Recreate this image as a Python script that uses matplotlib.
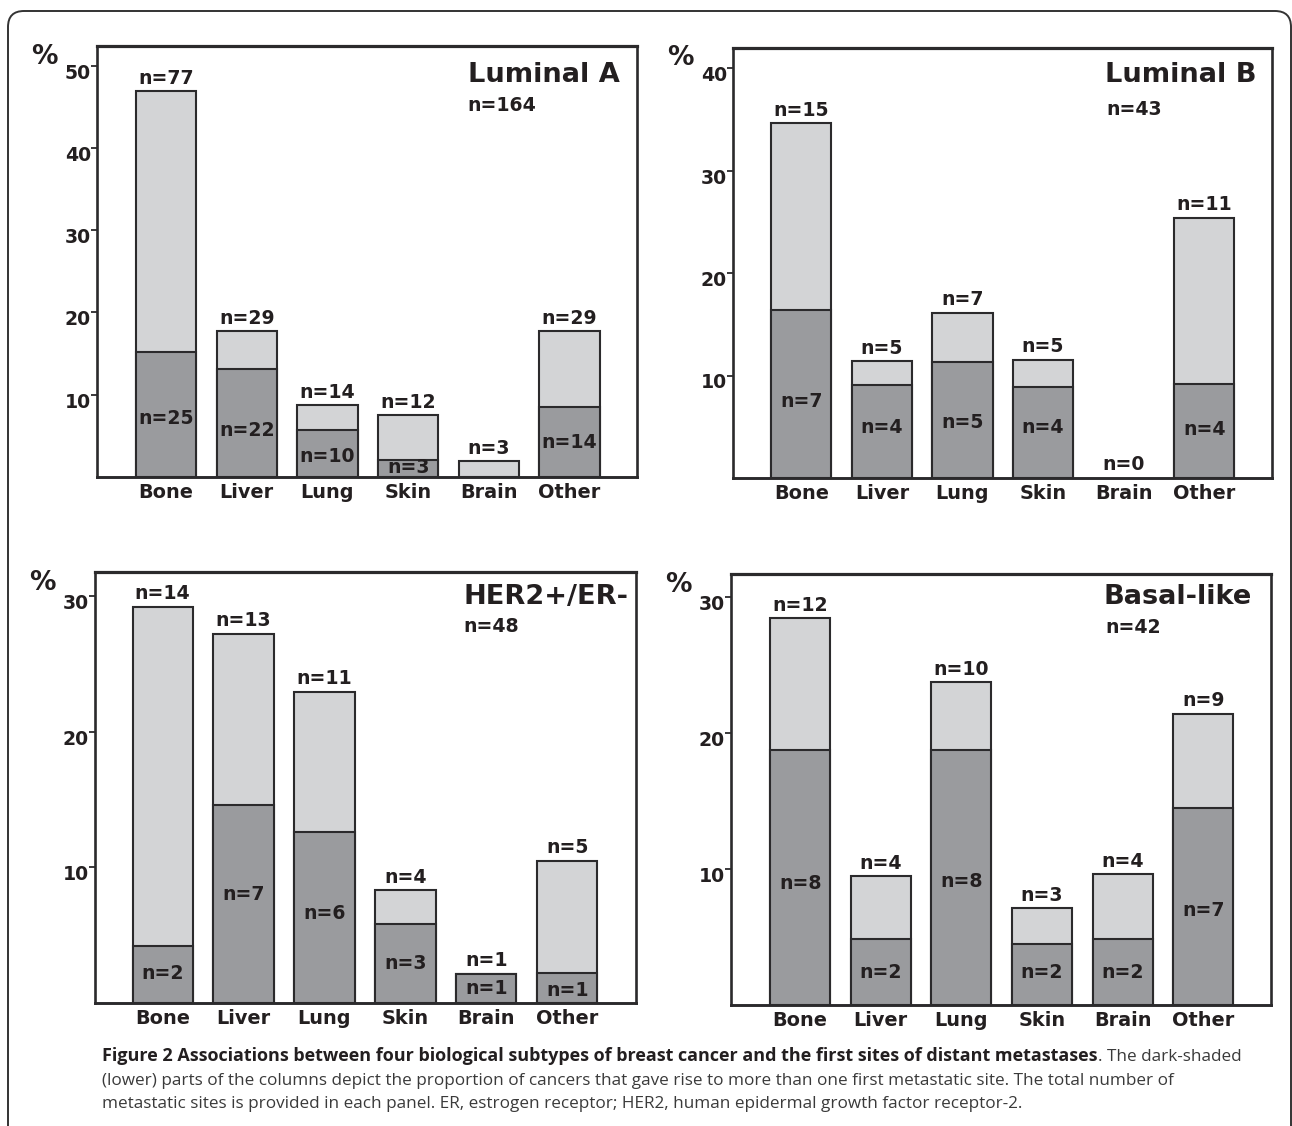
import matplotlib
matplotlib.use("Agg")
import matplotlib.pyplot as plt
from matplotlib.patches import FancyBboxPatch
from matplotlib.transforms import IdentityTransform, ScaledTranslation

# ---------------- data ----------------
sites = ["Bone", "Liver", "Lung", "Skin", "Brain", "Other"]

lumA_total = [46.9, 17.7, 8.7, 7.5, 1.9, 17.7]
lumA_multi = [15.2, 13.1, 5.7, 2.1, 0.0, 8.5]
lumA_n_total = ["n=77", "n=29", "n=14", "n=12", "n=3", "n=29"]
lumA_n_multi = ["n=25", "n=22", "n=10", "n=3", "", "n=14"]

lumB_total = [34.6, 11.4, 16.1, 11.5, 0.0, 25.4]
lumB_multi = [16.4, 9.1, 11.3, 8.9, 0.0, 9.2]
lumB_n_total = ["n=15", "n=5", "n=7", "n=5", "n=0", "n=11"]
lumB_n_multi = ["n=7", "n=4", "n=5", "n=4", "", "n=4"]

her2_total = [29.2, 27.2, 22.95, 8.3, 2.15, 10.5]
her2_multi = [4.2, 14.6, 12.6, 5.8, 2.15, 2.2]
her2_n_total = ["n=14", "n=13", "n=11", "n=4", "n=1", "n=5"]
her2_n_multi = ["n=2", "n=7", "n=6", "n=3", "n=1", "n=1"]

basal_total = [28.4, 9.46, 23.7, 7.1, 9.6, 21.4]
basal_multi = [18.7, 4.83, 18.7, 4.5, 4.83, 14.5]
basal_n_total = ["n=12", "n=4", "n=10", "n=3", "n=4", "n=9"]
basal_n_multi = ["n=8", "n=2", "n=8", "n=2", "n=2", "n=7"]

titles = ["Luminal A", "Luminal B", "HER2+/ER-", "Basal-like"]
panel_n = ["n=164", "n=43", "n=48", "n=42"]

# ---------------- layout / style ----------------
W, H, DPI = 1292, 1126, 100
LIGHT = "#d3d4d6"
DARK = "#9a9b9e"
EDGE = "#2b2a2c"
TXT = "#231f20"
FONT = ["DejaVu Sans"]

plt.rcParams["font.family"] = FONT
plt.rcParams["font.weight"] = "bold"

fig = plt.figure(figsize=(W / DPI, H / DPI), dpi=DPI)
fig.patch.set_facecolor("white")


def px_rect(left, right, top, bottom):
    return [left / W, 1 - bottom / H, (right - left) / W, (bottom - top) / H]


panels = [
    dict(rect=px_rect(97, 637, 46, 477), ylim=52.4, xlim=(-0.856, 5.836),
         yticks=[10, 20, 30, 40, 50],
         total=lumA_total, multi=lumA_multi, nt=lumA_n_total, nm=lumA_n_multi,
         label_y=[7.1, 5.7, 2.5, 1.15, None, 4.2],
         title_xy=(0.969, 0.917), n_xy=(0.686, 0.849)),
    dict(rect=px_rect(733, 1272, 47.5, 478), ylim=42.0, xlim=(-0.847, 5.84),
         yticks=[10, 20, 30, 40],
         total=lumB_total, multi=lumB_multi, nt=lumB_n_total, nm=lumB_n_multi,
         label_y=[7.5, 4.9, 5.4, 4.9, None, 4.7],
         title_xy=(0.972, 0.919), n_xy=(0.692, 0.843)),
    dict(rect=px_rect(95, 636, 572, 1003), ylim=31.76, xlim=(-0.836, 5.85),
         yticks=[10, 20, 30],
         total=her2_total, multi=her2_multi, nt=her2_n_total, nm=her2_n_multi,
         label_y=[2.15, 8.0, 6.6, 2.9, 1.05, 0.93],
         title_xy=(0.986, 0.925), n_xy=(0.681, 0.861)),
    dict(rect=px_rect(731, 1271, 574, 1005), ylim=31.66, xlim=(-0.858, 5.84),
         yticks=[10, 20, 30],
         total=basal_total, multi=basal_multi, nt=basal_n_total, nm=basal_n_multi,
         label_y=[8.9, 2.4, 9.1, 2.4, 2.4, 6.95],
         title_xy=(0.964, 0.930), n_xy=(0.694, 0.863)),
]

BAR_W = 0.745
LAB_FS = 13.6

for i, p in enumerate(panels):
    ax = fig.add_axes(p["rect"])
    x = list(range(len(sites)))
    xt = [xi for xi, v in zip(x, p["total"]) if v > 0]
    vt = [v for v in p["total"] if v > 0]
    xm = [xi for xi, v in zip(x, p["multi"]) if v > 0]
    vm = [v for v in p["multi"] if v > 0]
    ax.bar(xt, vt, width=BAR_W, color=LIGHT, edgecolor=EDGE, linewidth=1.5, zorder=1)
    ax.bar(xm, vm, width=BAR_W, color=DARK, edgecolor=EDGE, linewidth=1.5, zorder=1.1)

    for xi, v, lab in zip(x, p["total"], p["nt"]):
        ax.annotate(lab, (xi, v), xytext=(0, 5.5), textcoords="offset points",
                    ha="center", va="baseline", fontsize=LAB_FS,
                    fontweight="bold", color=TXT)
    for xi, ly, lab in zip(x, p["label_y"], p["nm"]):
        if lab and ly is not None:
            ax.text(xi, ly, lab, ha="center", va="center", fontsize=LAB_FS,
                    fontweight="bold", color=TXT, zorder=3)

    ax.set_xlim(*p["xlim"])
    ax.set_ylim(0, p["ylim"])
    ax.set_xticks(x)
    ax.set_xticklabels(sites, fontsize=LAB_FS + 0.3, fontweight="bold", color=TXT)
    ax.set_yticks(p["yticks"])
    ax.set_yticklabels([str(t) for t in p["yticks"]], fontsize=LAB_FS,
                       fontweight="bold", color=TXT)
    ax.tick_params(axis="x", length=0, pad=4)
    ax.tick_params(axis="y", direction="out", length=4, width=1.3,
                   color=EDGE, pad=0.5)
    off = ScaledTranslation(0, -5.5 / DPI, fig.dpi_scale_trans)
    for lab in ax.get_yticklabels():
        lab.set_transform(lab.get_transform() + off)
    for side in ["left", "right", "top", "bottom"]:
        ax.spines[side].set_color(EDGE)
        ax.spines[side].set_linewidth(1.9)
    ax.spines["top"].set_linewidth(2.3)
    ax.spines["bottom"].set_linewidth(2.1)

    ax.text(p["title_xy"][0], p["title_xy"][1], titles[i], transform=ax.transAxes,
            ha="right", va="baseline", fontsize=19.6, fontweight="bold", color=TXT)
    ax.text(p["n_xy"][0], p["n_xy"][1], panel_n[i], transform=ax.transAxes,
            ha="left", va="baseline", fontsize=LAB_FS, fontweight="bold", color=TXT)
    ax.text(-0.097, 0.975, "%", transform=ax.transAxes, ha="center", va="center",
            fontsize=19, fontweight="bold", color=TXT)

# ---------------- outer frame ----------------
frame = FancyBboxPatch((8, -30), 1283, H - 11 + 30,
                       boxstyle="round,pad=0,rounding_size=16",
                       transform=IdentityTransform(), fill=False,
                       edgecolor="#333333", linewidth=1.4)
fig.add_artist(frame)

# ---------------- caption ----------------
cap_bold = ("Figure 2 Associations between four biological subtypes of breast "
            "cancer and the first sites of distant metastases")
cap_l1 = ". The dark-shaded"
cap_l2 = ("(lower) parts of the columns depict the proportion of cancers that gave "
          "rise to more than one first metastatic site. The total number of")
cap_l3 = ("metastatic sites is provided in each panel. ER, estrogen receptor; HER2, "
          "human epidermal growth factor receptor-2.")

CAP_FONT = ["Open Sans", "DejaVu Sans"]
REG_COL = "#3a3a3a"
renderer = fig.canvas.get_renderer()
x0 = 102 / W
ys = [1 - 1061 / H, 1 - 1085 / H, 1 - 1108 / H]


def fitted_text(xf, yf, s, target_px, weight, color):
    t = fig.text(xf, yf, s, ha="left", va="baseline", fontsize=10,
                 family=CAP_FONT, fontweight=weight, color=color)
    w = t.get_window_extent(renderer).width
    t.set_fontsize(10 * target_px / w)
    return t


# regular lines sized so the last line spans like the reference
t3 = fitted_text(x0, ys[2], cap_l3, 914, "normal", REG_COL)
fs_reg = t3.get_fontsize()
fig.text(x0, ys[1], cap_l2, ha="left", va="baseline", fontsize=fs_reg,
         family=CAP_FONT, fontweight="normal", color=REG_COL)
# first line: bold part + regular tail, whole line ending near x=1250
tail = fig.text(0, ys[0], cap_l1, ha="left", va="baseline", fontsize=fs_reg,
                family=CAP_FONT, fontweight="normal", color=REG_COL)
tail_w = tail.get_window_extent(renderer).width
tb = fitted_text(x0, ys[0], cap_bold, 1148 - tail_w, "bold", "#231f20")
bb = tb.get_window_extent(renderer)
tail.set_x(bb.x1 / W)

fig.savefig("out.png", dpi=DPI)
